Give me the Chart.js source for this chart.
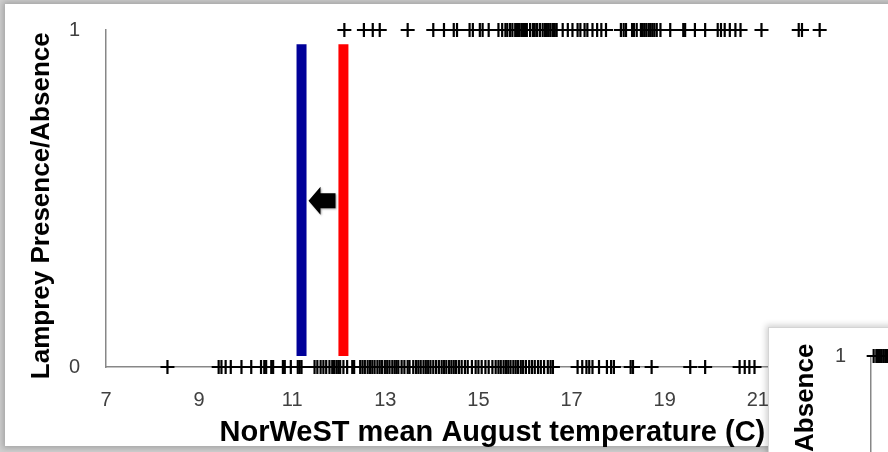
<!DOCTYPE html>
<html><head><meta charset="utf-8">
<script src="https://cdn.jsdelivr.net/npm/chart.js@4.4.0/dist/chart.umd.min.js"></script>
<style>
html,body{margin:0;padding:0;width:888px;height:452px;overflow:hidden;background:#cfcfcf;}
#panel{position:absolute;left:5px;top:4px;width:900px;height:442px;background:#fff;box-shadow:0 0 6px 2px rgba(0,0,0,0.22);}
#main{position:absolute;left:0;top:0;}
#inset{position:absolute;left:768px;top:327px;width:200px;height:460px;background:#fff;border:1px solid #d4d4d4;box-shadow:0 0 6px 2px rgba(0,0,0,0.18);overflow:hidden;}
#insetCanvas{position:absolute;left:0;top:0;}
</style></head><body>
<div id="panel"></div>
<canvas id="main" width="888" height="452"></canvas>
<div id="inset"><canvas id="insetCanvas" width="200" height="460"></canvas></div>
<script>
// ---- data ----
const xTicks = [7, 9, 11, 13, 15, 17, 19, 21, 23];
const yTicks = [0, 1];
const presentTemps = [12.12, 12.54, 12.73, 12.88, 13.48, 14.03, 14.26, 14.47, 14.54, 14.81, 14.88, 15.03, 15.09, 15.22,
  15.43, 15.51, 15.58, 15.62, 15.68, 15.73, 15.79, 15.83, 15.87, 15.92, 15.96, 16.00, 16.04, 16.11, 16.17, 16.21,
  16.26, 16.32, 16.38, 16.43, 16.47, 16.51, 16.55, 16.60, 16.64, 16.68, 16.81, 16.92, 17.02, 17.13, 17.19, 17.28,
  17.34, 17.45, 17.55, 17.64, 17.74, 18.06, 18.12, 18.17, 18.30, 18.34, 18.40, 18.49, 18.53, 18.57, 18.61, 18.66,
  18.70, 18.74, 18.78, 18.83, 18.91, 19.12, 19.40, 19.44, 19.65, 19.87, 20.14, 20.21, 20.29, 20.40, 20.52, 20.63,
  21.08, 21.88, 21.95, 22.33];
const absentTemps = [8.32, 9.42, 9.48, 9.57, 9.68, 9.91, 10.12, 10.33, 10.40, 10.44, 10.55, 10.59, 10.80, 10.84, 10.97,
  11.12, 11.16, 11.20, 11.48, 11.54, 11.61, 11.67, 11.73, 11.80, 11.86, 11.90, 11.95, 11.99, 12.03, 12.10, 12.18,
  12.29, 12.33, 12.46, 12.51, 12.56, 12.62, 12.67, 12.72, 12.77, 12.83, 12.88, 12.93, 12.99, 13.04, 13.09, 13.15,
  13.20, 13.24, 13.28, 13.35, 13.41, 13.48, 13.52, 13.60, 13.66, 13.71, 13.76, 13.82, 13.87, 13.92, 13.97, 14.03,
  14.09, 14.15, 14.21, 14.26, 14.31, 14.37, 14.42, 14.47, 14.52, 14.58, 14.64, 14.71, 14.77, 14.86, 14.94, 15.00,
  15.07, 15.15, 15.22, 15.30, 15.37, 15.43, 15.48, 15.54, 15.59, 15.64, 15.69, 15.75, 15.80, 15.85, 15.91, 15.96,
  16.02, 16.09, 16.15, 16.21, 16.28, 16.34, 16.41, 16.49, 16.55, 16.60, 17.13, 17.23, 17.32, 17.38, 17.45, 17.59,
  17.76, 17.85, 17.91, 18.27, 18.32, 18.72, 19.55, 19.87, 20.61, 20.72, 20.82, 20.93];
const thresholdBlue = 11.2;
const thresholdRed = 12.1;
const barSpan = [0.033, 0.958];
const arrowFrom = 11.93;
const arrowTo = 11.35;
const arrowLevel = 0.493;
const insetPresent = [7.06, 7.12, 7.16, 7.2, 7.24, 7.28, 7.32, 7.36, 7.42, 7.5, 7.6];

// ---- chart ----
const FONT = '"Liberation Sans", Arial, sans-serif';
const crossStyle = {pointStyle: 'cross', pointRadius: 7, pointHoverRadius: 7, borderColor: '#000', borderWidth: 2.2, showLine: false, clip: false};
// hidden tick marks used as a spacer between axis line and labels
const yGrid = {display: true, drawOnChartArea: false, drawTicks: true, tickLength: 20, tickColor: 'rgba(0,0,0,0)', color: 'rgba(0,0,0,0)'};

const arrowPlugin = {
  id: 'arrow',
  afterDatasetsDraw(chart) {
    const {ctx, scales: {x, y}} = chart;
    const x0 = x.getPixelForValue(arrowFrom), x1 = x.getPixelForValue(arrowTo), yc = y.getPixelForValue(arrowLevel);
    const head = 12, hh = 14, sh = 7.5;
    ctx.save();
    ctx.shadowColor = 'rgba(0,0,0,0.35)'; ctx.shadowBlur = 2; ctx.shadowOffsetX = 1; ctx.shadowOffsetY = 1;
    ctx.fillStyle = '#000';
    ctx.beginPath();
    ctx.moveTo(x1, yc);
    ctx.lineTo(x1 + head, yc - hh);
    ctx.lineTo(x1 + head, yc - sh);
    ctx.lineTo(x0, yc - sh);
    ctx.lineTo(x0, yc + sh);
    ctx.lineTo(x1 + head, yc + sh);
    ctx.lineTo(x1 + head, yc + hh);
    ctx.closePath();
    ctx.fill();
    ctx.restore();
  }
};

new Chart(document.getElementById('main'), {
  type: 'scatter',
  data: {
    datasets: [
      Object.assign({label: 'Present', data: presentTemps.map(v => ({x: v, y: 1}))}, crossStyle),
      Object.assign({label: 'Absent', data: absentTemps.map(v => ({x: v, y: 0}))}, crossStyle),
      {label: 'blue', data: barSpan.map(v => ({x: thresholdBlue, y: v})), showLine: true, borderColor: '#000099', borderWidth: 10, pointRadius: 0, borderCapStyle: 'butt'},
      {label: 'red', data: barSpan.map(v => ({x: thresholdRed, y: v})), showLine: true, borderColor: '#ff0000', borderWidth: 10, pointRadius: 0, borderCapStyle: 'butt'}
    ]
  },
  options: {
    responsive: false, animation: false, events: [],
    layout: {padding: {top: 30, left: 0, right: 0, bottom: 0}},
    plugins: {legend: {display: false}, tooltip: {enabled: false}},
    scales: {
      x: {
        type: 'linear', min: 7, max: 23.6,
        afterBuildTicks: s => { s.ticks = xTicks.map(v => ({value: v})); },
        afterFit: s => { s.height = 85; },
        grid: {display: false, drawTicks: false},
        border: {display: true, color: '#878787', width: 1.5},
        ticks: {font: {family: FONT, size: 20}, color: '#404040', padding: 21, maxRotation: 0, autoSkip: false},
        title: {display: true, text: 'NorWeST mean August temperature (C)', font: {family: FONT, size: 29, weight: 'bold'}, color: '#000', padding: {top: 0, bottom: 2}}
      },
      y: {
        type: 'linear', min: 0, max: 1,
        afterBuildTicks: s => { s.ticks = yTicks.map(v => ({value: v})); },
        afterFit: s => { s.width = 106; },
        grid: yGrid,
        border: {display: true, color: '#878787', width: 1.5},
        ticks: {font: {family: FONT, size: 20}, color: '#404040', padding: 6},
        title: {display: true, text: 'Lamprey Presence/Absence  ', font: {family: FONT, size: 26, weight: 'bold'}, color: '#000', padding: {top: 26, bottom: 0}}
      }
    }
  },
  plugins: [arrowPlugin]
});

new Chart(document.getElementById('insetCanvas'), {
  type: 'scatter',
  data: {datasets: [Object.assign({label: 'Present', data: insetPresent.map(v => ({x: v, y: 1}))}, crossStyle)]},
  options: {
    responsive: false, animation: false, events: [],
    layout: {padding: {top: 28, left: 0, right: 0, bottom: 110}},
    plugins: {legend: {display: false}, tooltip: {enabled: false}},
    scales: {
      x: {type: 'linear', min: 7, max: 9, display: false},
      y: {
        type: 'linear', min: 0, max: 1,
        afterBuildTicks: s => { s.ticks = yTicks.map(v => ({value: v})); },
        afterFit: s => { s.width = 102; },
        grid: yGrid,
        border: {display: true, color: '#878787', width: 1.5},
        ticks: {font: {family: FONT, size: 20}, color: '#404040', padding: 5},
        title: {display: true, text: 'Lamprey Presence/Absence', font: {family: FONT, size: 26, weight: 'bold'}, color: '#000', padding: {top: 21, bottom: 0}}
      }
    }
  }
});
</script>
</body></html>
